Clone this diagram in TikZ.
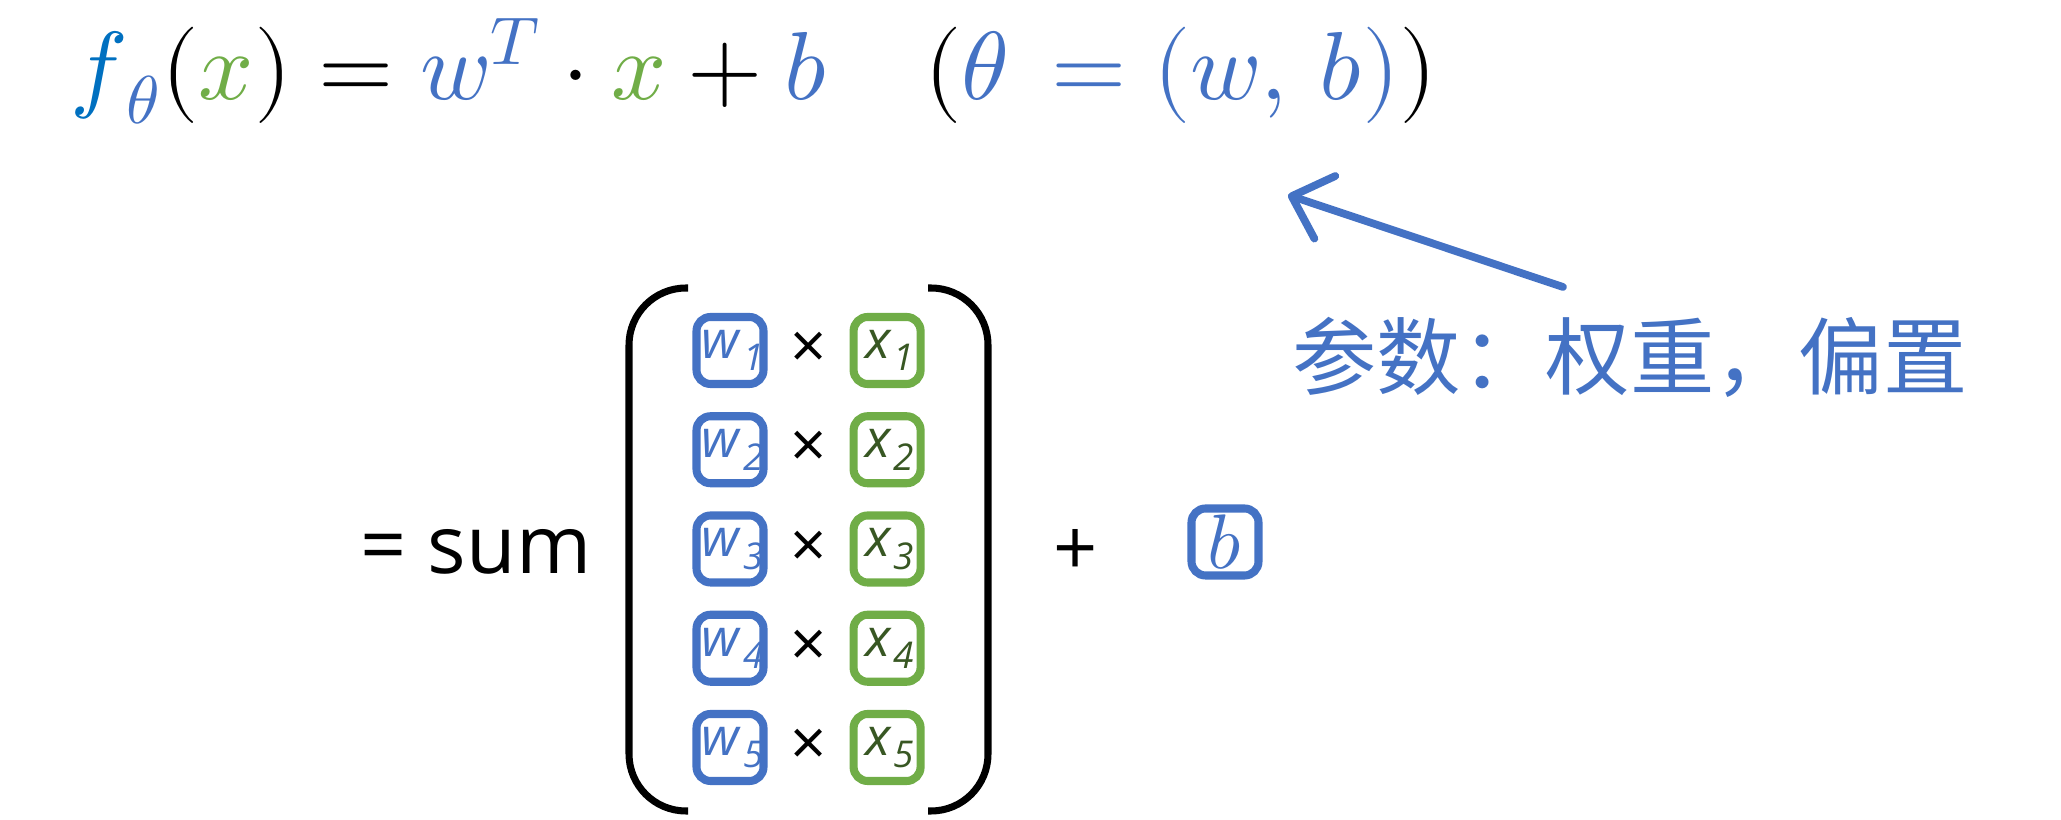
\documentclass[tikz,border=0pt]{standalone}
\usepackage{fontspec}
\usepackage{unicode-math}
\usetikzlibrary{positioning,arrows.meta}
\newfontfamily\segoe{Open Sans}
\newfontfamily\cjk{Noto Sans CJK SC}
\definecolor{fblue}{HTML}{0070C0}
\definecolor{wblue}{HTML}{4472C4}
\definecolor{xgreen}{HTML}{70AD47}
\definecolor{xdark}{HTML}{385723}
\newcommand{\subterm}[2]{\makebox[0.6cm][c]{\kern1.5pt\textit{#1}\kern0.5pt\raisebox{-3.6pt}{\fontsize{10.5}{11}\selectfont\itshape #2}}}

\begin{document}
\begin{tikzpicture}[
    wbox/.style={draw=wblue,line width=2.3pt,rounded corners=4pt,minimum size=0.67cm,
      inner sep=0pt,text=wblue,font=\segoe\fontsize{15}{18}\selectfont},
    xbox/.style={wbox,draw=xgreen,text=xdark},
    paren/.style={line width=2pt}]
    \tikzstyle{times}=[font=\segoe\fontsize{18}{22}\selectfont,inner sep=0pt]
    \tikzstyle{link}=[draw=wblue,line width=2.2pt,line cap=round,
      -{Straight Barb[round,length=3.5mm,width=6.6mm]}]
    \useasboundingbox (0,0) rectangle (20.61,8.2);
    \node[anchor=base west,inner sep=0pt,font=\fontsize{27.5}{32}\selectfont] (eq) at (0.70,7.20)
      {$\textcolor{fblue}{f}_{\textcolor{wblue}{\theta}}(\textcolor{xgreen}{x})
        = \textcolor{wblue}{w^{T}}\cdot\textcolor{xgreen}{x}+\textcolor{wblue}{b}
        \quad(\textcolor{wblue}{\theta\mskip3mu=(w,\,b)})$};
    \node[anchor=base west,inner sep=0pt,font=\segoe\fontsize{23}{27}\selectfont] (sumlbl) at (3.60,2.46) {= sum};
    \foreach \i in {1,...,5}{
      \node[wbox] (w\i) at (7.30,{4.695-0.9925*(\i-1)}) {\subterm{w}{\i}};
      \node[xbox] (x\i) [right=0.82cm of w\i] {\subterm{x}{\i}};
      \path (w\i) -- node[times] (t\i) {×} (x\i);
    }
    % brackets
    \draw[paren] (6.88,5.32) -- (6.86,5.32) arc[start angle=90,end angle=180,radius=0.57]
      -- (6.29,0.66) arc[start angle=180,end angle=270,radius=0.57] -- (6.88,0.09);
    \draw[paren] (9.28,5.32) -- (9.31,5.32) arc[start angle=90,end angle=0,radius=0.57]
      -- (9.88,0.66) arc[start angle=0,end angle=-90,radius=0.57] -- (9.28,0.09);
    \node[inner sep=0pt,font=\segoe\fontsize{22}{26}\selectfont] (plus) at (10.76,2.68) {+};
    \node[wbox,font=\fontsize{22}{26}\selectfont] (bb) at (12.25,2.78) {$b$};
    \node[text=wblue,font=\cjk\fontsize{24}{28}\selectfont] (param) at (16.30,4.63) {参数：权重，偏置};
    \coordinate (tail) at (15.63,5.33);
    \coordinate (tip) at (12.88,6.25);
    \draw[link] (tail) -- (tip);
\end{tikzpicture}
\end{document}
